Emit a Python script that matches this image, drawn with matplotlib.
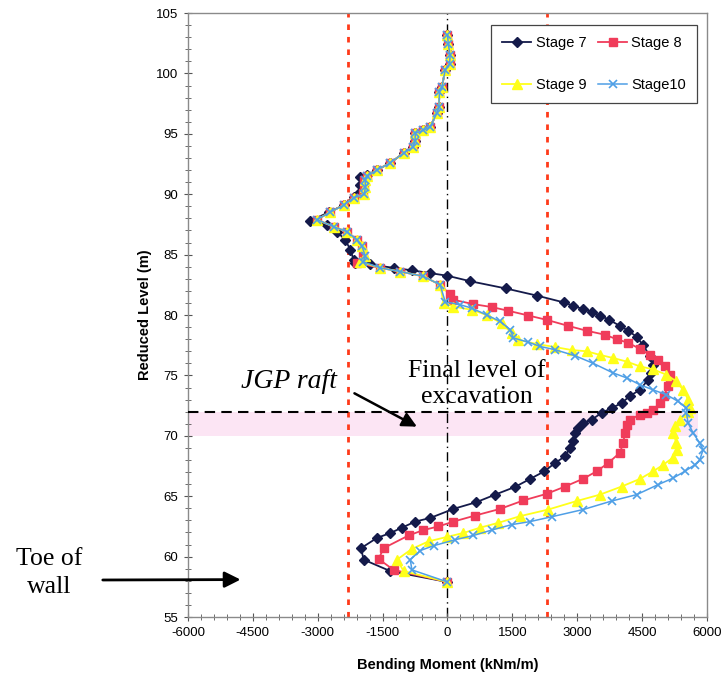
import numpy as np
import matplotlib
matplotlib.use("Agg")
import matplotlib.pyplot as plt
from matplotlib.ticker import MultipleLocator

plt.rcParams['font.family'] = ['Liberation Sans', 'DejaVu Sans']
plt.rcParams['axes.unicode_minus'] = False

s7_x = [0, 20, 60, 50, -50, -130, -185, -200, -245, -400, -555, -745, -750, -800,
        -1015, -1322, -1630, -1860, -2015, -2015, -2015, -2170, -2400, -2747, -3170,
        -2783, -2553, -2360, -2245, -2170, -2130, -1785, -1246, -822, -400, 0, 524,
        1348, 2077, 2694, 2908, 3124, 3333, 3524, 3739, 3986, 4178, 4372, 4524, 4678,
        4755, 4716, 4640, 4447, 4216, 4024, 3793, 3563, 3333, 3139, 3024, 2947, 2908,
        2832, 2717, 2486, 2240, 1909, 1562, 1101, 662, 138, -400, -745, -1052, -1322,
        -1630, -1999, -1939, -1322, 0]
s7_y = [103.2, 102.4, 101.5, 100.8, 100.3, 98.9, 98.5, 97.2, 96.7, 95.6, 95.3, 95.05,
        94.4, 93.9, 93.4, 92.6, 92.0, 91.6, 91.4, 90.8, 90.2, 89.8, 89.1, 88.5, 87.8,
        87.46, 86.9, 86.2, 85.4, 84.57, 84.3, 84.2, 83.9, 83.7, 83.47, 83.25, 82.8,
        82.2, 81.6, 81.04, 80.77, 80.5, 80.27, 79.96, 79.6, 79.1, 78.7, 78.2, 77.5, 76.6,
        75.9, 75.2, 74.65, 73.8, 73.3, 72.7, 72.3, 71.9, 71.33, 71.06, 70.65, 70.23, 69.55,
        69.0, 68.3, 67.75, 67.06, 66.43, 65.77, 65.13, 64.5, 63.95, 63.2, 62.9, 62.4, 61.95,
        61.55, 60.7, 59.75, 58.8, 57.9]

s8_x = [0, 20, 60, 50, -50, -130, -185, -200, -245, -400, -555, -745, -750, -800,
        -1015, -1322, -1630, -1860, -1930, -1930, -1950, -2170, -2400, -2720, -3015,
        -2630, -2322, -2090, -1976, -1950, -2090, -1553, -1092, -555, -170, 62, 138,
        600, 1024, 1408, 1870, 2294, 2793, 3217, 3640, 3909, 4178, 4447, 4678, 4870,
        5024, 5140, 5155, 5101, 5001, 4909, 4755, 4602, 4447, 4216, 4140, 4101, 4063,
        3986, 3716, 3448, 3139, 2717, 2294, 1754, 1216, 639, 138, -208, -555, -900,
        -1477, -1592, -1246, 0]
s8_y = [103.2, 102.4, 101.5, 100.8, 100.3, 98.9, 98.5, 97.2, 96.7, 95.6, 95.3, 95.05,
        94.4, 93.9, 93.4, 92.6, 92.0, 91.5, 91.2, 90.6, 90.1, 89.7, 89.1, 88.5, 87.9,
        87.3, 86.9, 86.2, 85.7, 84.85, 84.3, 83.9, 83.6, 83.2, 82.5, 81.7, 81.26,
        80.9, 80.66, 80.35, 79.96, 79.6, 79.1, 78.7, 78.37, 78.0, 77.7, 77.2, 76.7, 76.3,
        75.8, 75.06, 74.65, 74.1, 73.3, 72.7, 72.16, 71.9, 71.75, 71.33, 70.9, 70.24, 69.4,
        68.6, 67.75, 67.06, 66.45, 65.8, 65.2, 64.65, 63.95, 63.4, 62.9, 62.5, 62.2, 61.75,
        60.7, 59.8, 58.9, 57.9]

s9_x = [0, 20, 60, 50, -50, -130, -185, -200, -245, -400, -555, -745, -750, -800,
        -1015, -1322, -1630, -1860, -1900, -1900, -1920, -2170, -2400, -2720, -3015,
        -2630, -2322, -2090, -1976, -1900, -2015, -1553, -1092, -555, -170, -92, 138,
        563, 909, 1255, 1486, 1639, 2063, 2486, 2871, 3217, 3524, 3832, 4140, 4447,
        4755, 5063, 5294, 5448, 5563, 5601, 5563, 5370, 5255, 5216, 5294, 5309, 5216,
        4986, 4755, 4447, 4024, 3524, 2986, 2332, 1678, 1178, 755, 370, -14, -439,
        -822, -1168, -1015, 0]
s9_y = [103.2, 102.4, 101.5, 100.8, 100.3, 98.9, 98.5, 97.2, 96.7, 95.6, 95.3, 95.05,
        94.4, 93.9, 93.4, 92.6, 92.0, 91.5, 91.2, 90.6, 90.0, 89.7, 89.1, 88.5, 87.9,
        87.3, 86.9, 86.2, 85.7, 84.85, 84.4, 83.9, 83.6, 83.2, 82.5, 81.0, 80.7,
        80.43, 80.0, 79.3, 78.5, 77.95, 77.6, 77.35, 77.1, 77.0, 76.7, 76.44, 76.15, 75.75,
        75.5, 75.06, 74.5, 73.8, 73.0, 72.3, 72.0, 71.35, 70.8, 70.24, 69.4, 68.85, 68.2,
        67.6, 67.06, 66.43, 65.8, 65.13, 64.6, 63.9, 63.35, 62.8, 62.4, 61.96, 61.63, 61.26,
        60.64, 59.75, 58.8, 57.9]

s10_x = [0, 20, 60, 50, -50, -130, -185, -200, -245, -400, -555, -745, -750, -800,
         -1015, -1322, -1630, -1860, -1900, -1900, -1920, -2170, -2400, -2720, -3015,
         -2630, -2322, -2090, -1976, -1900, -1950, -1553, -1092, -555, -170, -53, 293,
         563, 909, 1216, 1447, 1524, 1870, 2140, 2486, 2948, 3370, 3832, 4140, 4447,
         4755, 5063, 5332, 5525, 5525, 5563, 5678, 5832, 5909, 5832, 5717, 5486, 5216,
         4870, 4371, 3794, 3139, 2409, 1909, 1486, 1024, 600, 178, -323, -630, -861,
         -822, 0]
s10_y = [103.2, 102.4, 101.5, 100.8, 100.3, 98.9, 98.5, 97.2, 96.7, 95.6, 95.3, 95.05,
         94.4, 93.9, 93.4, 92.6, 92.0, 91.5, 91.2, 90.6, 90.0, 89.7, 89.1, 88.5, 87.9,
         87.3, 86.9, 86.2, 85.7, 84.85, 84.4, 83.9, 83.6, 83.2, 82.5, 81.1, 80.85,
         80.57, 80.0, 79.47, 78.8, 78.1, 77.75, 77.4, 77.13, 76.63, 76.0, 75.2, 74.8, 74.23,
         73.8, 73.4, 72.85, 72.3, 71.9, 71.06, 70.24, 69.4, 68.85, 68.0, 67.6, 67.06, 66.5,
         65.96, 65.13, 64.6, 63.9, 63.3, 62.9, 62.65, 62.2, 61.75, 61.4, 60.9, 60.5, 59.75,
         58.9, 57.9]

labels = ["Stage 7", "Stage 8", "Stage 9", "Stage10"]
limit_moment = 2300       # red dotted design limits
excavation_level = 72
raft_bottom = 70

fig = plt.figure(figsize=(7.21, 6.75), dpi=100)
ax = fig.add_axes([0.2607, 0.0859, 0.7199, 0.8948])

# JGP raft band and final excavation level
ax.fill_between([-6000, 5800], raft_bottom, excavation_level, color='#fcdff2',
                alpha=0.8, lw=0, zorder=1)
ax.plot([-6000, 5800], [excavation_level, excavation_level], color='black',
        lw=1.5, dashes=(5, 3), zorder=4)
ax.axvline(0, color='black', lw=1, dashes=(7, 3, 1, 3), zorder=1)
for v in (-limit_moment, limit_moment):
    ax.axvline(v, color='#ff3a1a', lw=2, dashes=(2, 2.5), zorder=1)

h7, = ax.plot(s7_x, s7_y, color='#141a4a', marker='D', ms=5.5, lw=1.3, label=labels[0], zorder=3)
h8, = ax.plot(s8_x, s8_y, color='#f03c5a', marker='s', ms=5.5, lw=1.3, label=labels[1], zorder=3)
h9, = ax.plot(s9_x, s9_y, color='#ffff1a', marker='^', ms=6.5, lw=1.3, label=labels[2], zorder=3)
h10, = ax.plot(s10_x, s10_y, color='#4f9fe6', marker='x', ms=6, mew=1.2, lw=1.1,
               label=labels[3], zorder=3)

ax.set_xlim(-6000, 6000)
ax.set_ylim(55, 105)
ax.xaxis.set_major_locator(MultipleLocator(1500))
ax.xaxis.set_minor_locator(MultipleLocator(300))
ax.yaxis.set_major_locator(MultipleLocator(5))
ax.yaxis.set_minor_locator(MultipleLocator(1))
ax.tick_params(which='major', direction='inout', length=6, width=0.8, color='#555555',
               labelsize=9.5, pad=4)
ax.tick_params(which='minor', direction='inout', length=4, width=0.6, color='#555555')
for sp in ax.spines.values():
    sp.set_color('#8a8a8a')
    sp.set_linewidth(1)

ax.set_xlabel('Bending Moment (kNm/m)', fontsize=10.5, fontweight='bold', labelpad=14)
ax.set_ylabel('Reduced Level (m)', fontsize=10.5, fontweight='bold', labelpad=3)

# column-wise fill order: 7, 9 | 8, 10 gives rows "7 8" and "9 10"
leg = ax.legend([h7, h9, h8, h10], [labels[0], labels[2], labels[1], labels[3]],
                loc='upper right', bbox_to_anchor=(0.981, 0.980), borderaxespad=0,
                ncol=2, fontsize=10.5, labelspacing=1.9, handlelength=2.0,
                columnspacing=0.8, handletextpad=0.3, borderpad=0.75, fancybox=False,
                framealpha=1, edgecolor='#444444')
leg.get_frame().set_linewidth(0.9)

# annotations
serif = ['Liberation Serif', 'DejaVu Serif']
fig.text(289 / 721, 1 - 382 / 675, 'JGP raft', family=serif, style='italic',
         fontsize=20, ha='center', va='center')
ax.annotate('', xy=(-650, 70.65), xytext=(352 / 721, 1 - 392 / 675),
            textcoords='figure fraction',
            arrowprops=dict(arrowstyle='-|>', color='black', lw=1.8, mutation_scale=22))
fig.text(477 / 721, 1 - 384 / 675, 'Final level of\nexcavation', family=serif,
         fontsize=18.5, ha='center', va='center', linespacing=1.2)
fig.text(49 / 721, 1 - 573 / 675, 'Toe of\nwall', family=serif, fontsize=18.5,
         ha='center', va='center', linespacing=1.35)
ax.annotate('', xy=(-4720, 58.1), xytext=(100 / 721, 1 - 580 / 675),
            textcoords='figure fraction', annotation_clip=False,
            arrowprops=dict(arrowstyle='-|>', color='black', lw=2, mutation_scale=24))

fig.savefig('out.png', dpi=100)
